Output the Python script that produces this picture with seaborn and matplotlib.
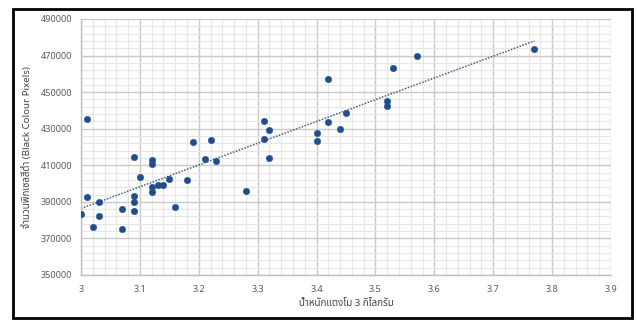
import numpy as np
import pandas as pd
import matplotlib
matplotlib.use("Agg")
import matplotlib.pyplot as plt
from matplotlib.patches import Rectangle
from matplotlib.ticker import FuncFormatter
from matplotlib import font_manager
import seaborn as sns

# weight of watermelon (kg) vs number of black pixels
weight = [3.00, 3.01, 3.01, 3.02, 3.03, 3.03, 3.07, 3.07, 3.09, 3.09,
          3.09, 3.09, 3.10, 3.12, 3.12, 3.12, 3.12, 3.13, 3.14, 3.15,
          3.16, 3.18, 3.19, 3.21, 3.22, 3.23, 3.28, 3.31, 3.31, 3.32,
          3.32, 3.40, 3.40, 3.42, 3.42, 3.44, 3.45, 3.52, 3.52, 3.53,
          3.57, 3.77]
pixels = [383500, 392800, 435300, 376400, 390000, 382300, 385900, 375000, 393000, 389750,
          385200, 414400, 403800, 398300, 395400, 412900, 410500, 399400, 399400, 402500,
          387200, 402100, 422600, 413300, 423800, 412300, 395800, 434400, 424400, 429500,
          414000, 427700, 423300, 457200, 433800, 429700, 438800, 445300, 442600, 463000,
          469800, 473600]

x_ticks = [3.0, 3.1, 3.2, 3.3, 3.4, 3.5, 3.6, 3.7, 3.8, 3.9]
y_ticks = [350000, 370000, 390000, 410000, 430000, 450000, 470000, 490000]

x_label = "น้ำหนักแตงโม 3 กิโลกรัม"
y_label = "จำนวนพิกเซลสีดำ (Black Colour Pixels)"

df = pd.DataFrame({"weight": weight, "pixels": pixels})

sns.set_style("white")
names = {f.name for f in font_manager.fontManager.ttflist}
fams = [f for f in ["Tahoma", "Noto Sans Thai", "Loma", "Garuda", "Norasi", "Waree",
                    "Noto Sans", "DejaVu Sans"] if f in names]
plt.rcParams["font.family"] = fams if fams else ["DejaVu Sans"]

fig = plt.figure(figsize=(6.37, 3.2), dpi=100)
ax = fig.add_axes([81 / 637, 1 - 275 / 320, 530 / 637, 256 / 320])

sns.scatterplot(data=df, x="weight", y="pixels", ax=ax, color="#1f4e8c",
                s=22, edgecolor="#1f4e8c", linewidth=0.3, zorder=3)
sns.regplot(data=df, x="weight", y="pixels", ax=ax, scatter=False, ci=None,
            line_kws={"color": "#4a5a78", "linestyle": (0, (1, 1)), "linewidth": 1.1})

ax.set_xlim(x_ticks[0], x_ticks[-1])
ax.set_ylim(y_ticks[0], y_ticks[-1])
ax.set_xticks(x_ticks)
ax.set_yticks(y_ticks)
ax.set_xticks(np.arange(x_ticks[0], x_ticks[-1] + 0.001, 0.02), minor=True)
ax.set_yticks(np.arange(y_ticks[0], y_ticks[-1] + 1, 4000), minor=True)
ax.xaxis.set_major_formatter(FuncFormatter(lambda v, p: f"{v:g}"))
ax.yaxis.set_major_formatter(FuncFormatter(lambda v, p: f"{v:.0f}"))

ax.grid(which="major", color="#c9c9c9", linewidth=1.0)
ax.grid(which="minor", color="#e6e6e6", linewidth=0.8)
ax.set_axisbelow(True)
for s in ["top", "right"]:
    ax.spines[s].set_visible(False)
for s in ["left", "bottom"]:
    ax.spines[s].set_color("#bfbfbf")
    ax.spines[s].set_linewidth(1.0)
ax.tick_params(which="major", length=3, color="#bfbfbf", labelsize=6.5,
               labelcolor="#595959", direction="out")
ax.tick_params(which="minor", length=0)
ax.tick_params(axis="x", pad=4)

ax.set_xlabel(x_label, fontsize=7, fontweight="bold", color="#404040", labelpad=4)
ax.set_ylabel(y_label, fontsize=7, fontweight="bold", color="#404040", labelpad=6)

fig.patches.append(Rectangle((13 / 637, 2 / 320), 619 / 637, 309 / 320,
                             transform=fig.transFigure, fill=False,
                             edgecolor="black", linewidth=2))

fig.savefig("out.png", dpi=100)
